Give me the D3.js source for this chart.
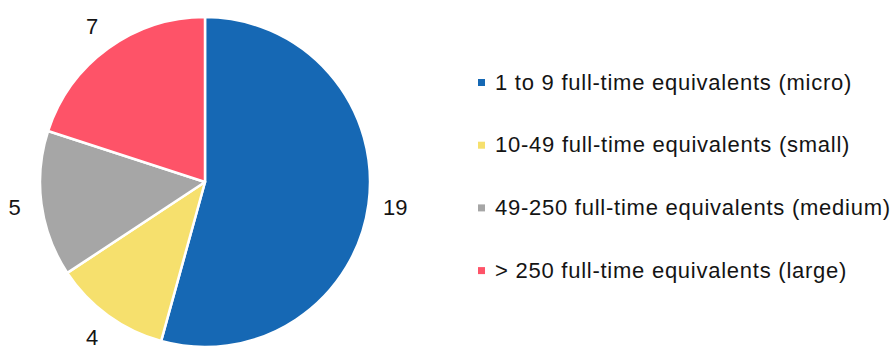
<!DOCTYPE html>
<html>
<head>
<meta charset="utf-8">
<script src="https://cdn.jsdelivr.net/npm/d3@7"></script>
<style>
  html, body { margin: 0; padding: 0; background: #fff; }
  svg { display: block; font-family: "Liberation Sans", Arial, sans-serif; }
</style>
</head>
<body>
<svg id="chart" width="896" height="349"></svg>
<script>
// Enterprises by size class (number of full-time equivalents)
const categories = [
  "1 to 9 full-time equivalents (micro)",
  "10-49 full-time equivalents (small)",
  "49-250 full-time equivalents (medium)",
  "> 250 full-time equivalents (large)"
];
const counts = [19, 4, 5, 7];
const colors = ["#1668b4", "#f6e06d", "#a6a6a6", "#fe5368"];

const svg = d3.select("#chart");
const cx = 205, cy = 182, radius = 165, labelRadius = 192;

const data = categories.map((c, i) => ({ name: c, value: counts[i], color: colors[i] }));

const pie = d3.pie().value(d => d.value).sort(null);
const arc = d3.arc().innerRadius(0).outerRadius(radius);
const labelArc = d3.arc().innerRadius(labelRadius).outerRadius(labelRadius);

const g = svg.append("g").attr("transform", `translate(${cx},${cy})`);
const arcs = pie(data);

g.selectAll("path")
  .data(arcs)
  .join("path")
  .attr("d", arc)
  .attr("fill", d => d.data.color)
  .attr("stroke", "#fff")
  .attr("stroke-width", 2.5)
  .attr("stroke-linejoin", "round");

g.selectAll("text.value")
  .data(arcs)
  .join("text")
  .attr("class", "value")
  .attr("transform", d => `translate(${labelArc.centroid(d)})`)
  .attr("text-anchor", "middle")
  .attr("dominant-baseline", "central")
  .attr("font-size", 22)
  .attr("fill", "#141414")
  .text(d => d.data.value);

// Legend
const legendX = 478, legendY0 = 82, legendStep = 62.7;
const legend = svg.append("g");
const items = legend.selectAll("g")
  .data(data)
  .join("g")
  .attr("transform", (d, i) => `translate(${legendX},${legendY0 + i * legendStep})`);

items.append("rect")
  .attr("x", 0).attr("y", -3)
  .attr("width", 7).attr("height", 7)
  .attr("fill", d => d.color);

items.append("text")
  .attr("x", 17)
  .attr("dominant-baseline", "central")
  .attr("font-size", 22)
  .attr("letter-spacing", 0.75)
  .attr("fill", "#141414")
  .text(d => d.name);
</script>
</body>
</html>
